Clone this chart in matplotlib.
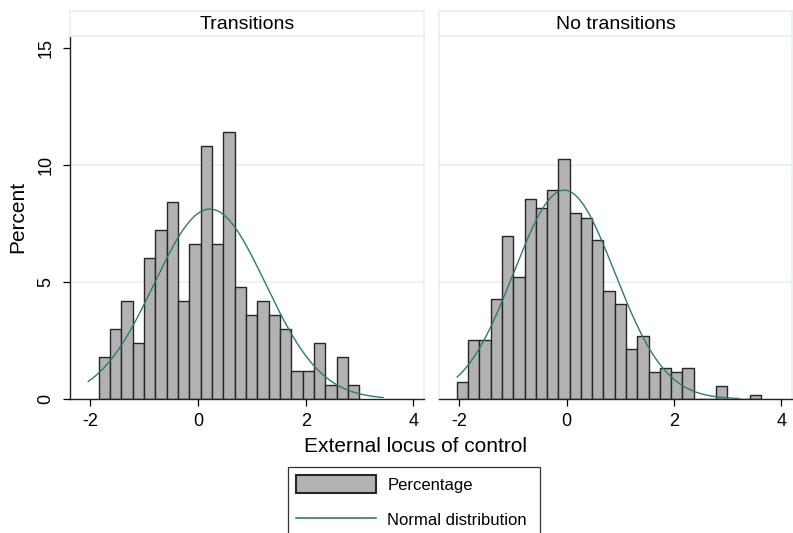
import numpy as np
import matplotlib
matplotlib.use("Agg")
import matplotlib.pyplot as plt
from matplotlib.patches import Patch
from matplotlib.lines import Line2D

plt.rcParams['font.family'] = ['Liberation Sans', 'DejaVu Sans']
plt.rcParams['axes.unicode_minus'] = False

# Histogram data (percent per bin)
panels = ["Transitions", "No transitions"]

trans_start = -1.844
trans_width = 0.2106
trans_pct = [1.8, 3.0, 4.2, 2.4, 6.0, 7.2, 8.4, 4.2, 6.6, 10.8, 6.6, 11.4,
             4.8, 3.6, 4.2, 3.6, 3.0, 1.2, 1.2, 2.4, 0.6, 1.8, 0.6]

notrans_start = -2.046
notrans_width = 0.2101
notrans_pct = [0.74, 2.5, 2.5, 4.26, 6.97, 5.21, 8.53, 8.14, 8.91, 10.26, 7.94,
               7.74, 6.79, 4.63, 4.07, 2.13, 2.7, 1.16, 1.34, 1.16, 1.34, 0.0,
               0.0, 0.54, 0.0, 0.0, 0.17]

# fitted normal curves: mean, sd, drawn range
trans_norm = (0.22, 1.036, -2.04, 3.44)
notrans_norm = (-0.045, 0.940, -2.04, 3.21)

BAR = "#b2b2b2"
EDGE = "#262626"
CURVE = "#2f7a72"
LIGHT = "#e8f0f1"

fig = plt.figure(figsize=(7.93, 5.33), dpi=100)
W, H = 793.0, 533.0


def px_axes(x0, y0, x1, y1):
    return fig.add_axes([x0 / W, 1 - y1 / H, (x1 - x0) / W, (y1 - y0) / H])


def draw_panel(ax, start, width, pct, norm, first):
    edges = start + width * np.arange(len(pct))
    ax.bar(edges, pct, width=width, align='edge', color=BAR,
           edgecolor=EDGE, linewidth=1.0, zorder=2)
    mu, sd, lo, hi = norm
    xs = np.linspace(lo, hi, 300)
    ys = 100 * width * np.exp(-0.5 * ((xs - mu) / sd) ** 2) / (sd * np.sqrt(2 * np.pi))
    ax.plot(xs, ys, color=CURVE, lw=1.0, zorder=3)
    ax.set_xlim(-2.38, 4.2)
    ax.set_ylim(0, 15.5)
    ax.set_xticks([-2, 0, 2, 4])
    ax.set_yticks([0, 5, 10, 15])
    for y in [5, 10]:
        ax.axhline(y, color=LIGHT, lw=1.2, zorder=1)
    ax.tick_params(axis='x', length=5, width=0.9, pad=5, labelsize=13)
    for s in ['top', 'right']:
        ax.spines[s].set_color(LIGHT)
        ax.spines[s].set_linewidth(1.2)
    ax.spines['bottom'].set_color('#222222')
    ax.spines['bottom'].set_linewidth(1.0)
    if first:
        ax.spines['left'].set_color('#222222')
        ax.spines['left'].set_linewidth(1.0)
        ax.tick_params(axis='y', length=5, width=0.9, pad=6, labelsize=13)
        for lab in ax.get_yticklabels():
            lab.set_rotation(90)
            lab.set_va('center')
    else:
        ax.spines['left'].set_color(LIGHT)
        ax.spines['left'].set_linewidth(1.2)
        ax.tick_params(axis='y', length=0, labelleft=False)


ax1 = px_axes(70, 36, 424, 399)
ax2 = px_axes(439, 36, 792, 399)
draw_panel(ax1, trans_start, trans_width, trans_pct, trans_norm, True)
draw_panel(ax2, notrans_start, notrans_width, notrans_pct, notrans_norm, False)

# title strips
for (x0, x1), name in zip([(70, 424), (439, 792)], panels):
    st = px_axes(x0, 11, x1, 36)
    st.set_xticks([])
    st.set_yticks([])
    for s in st.spines.values():
        s.set_color(LIGHT)
        s.set_linewidth(1.2)
    st.text(0.5, 0.45, name, ha='center', va='center', fontsize=14,
            transform=st.transAxes)

fig.text(18 / W, 1 - 217 / H, "Percent", rotation=90, ha='center',
         va='center', fontsize=15)
fig.text(416 / W, 1 - 446 / H, "External locus of control", ha='center',
         va='center', fontsize=15)

handles = [Patch(facecolor=BAR, edgecolor=EDGE, linewidth=1.5),
           Line2D([], [], color=CURVE, lw=1.2)]
leg = fig.legend(handles, ["Percentage", "Normal distribution "],
                 loc='upper left', bbox_to_anchor=(288 / W, 1 - 467 / H),
                 frameon=True, fancybox=False, edgecolor='black',
                 fontsize=12, handlelength=4.8, handleheight=1.26,
                 handletextpad=0.66, labelspacing=1.05, borderpad=0.5,
                 borderaxespad=0)
leg.get_frame().set_linewidth(0.9)

fig.savefig("out.png", dpi=100)
